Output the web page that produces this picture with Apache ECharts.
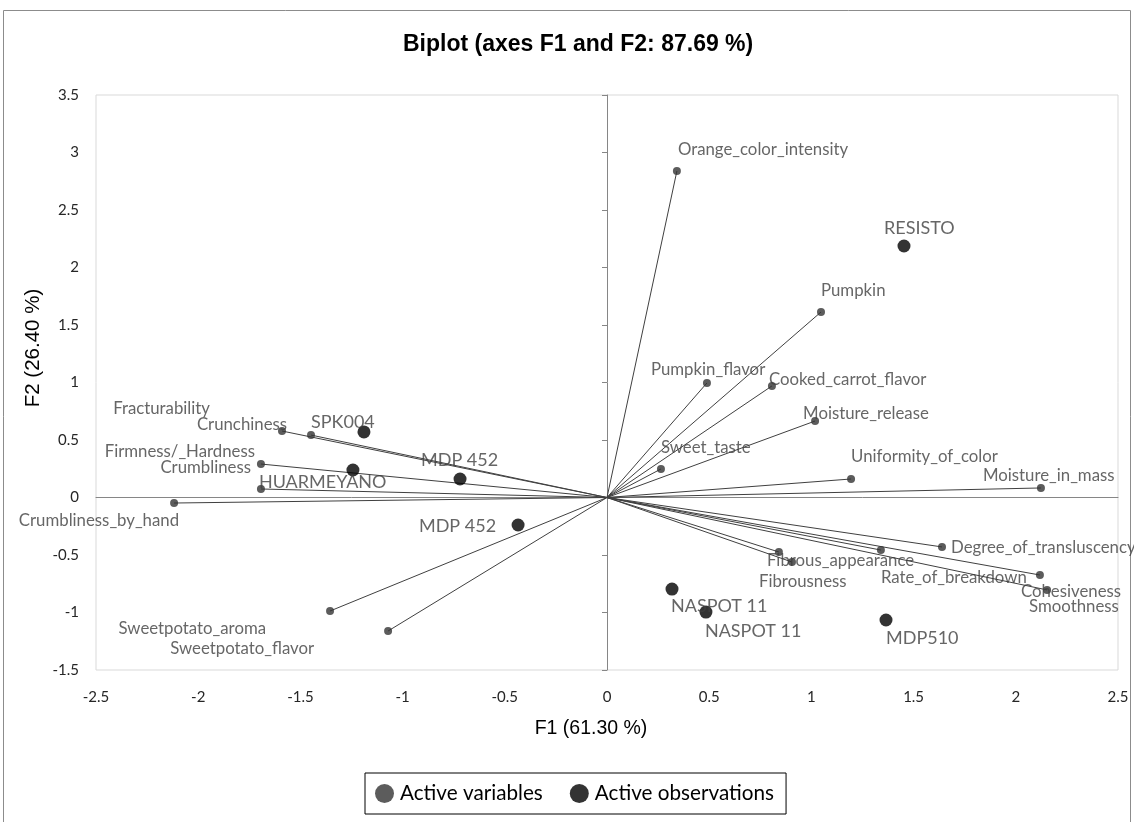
<!DOCTYPE html>
<html><head><meta charset="utf-8">
<script src="https://cdn.jsdelivr.net/npm/echarts@6/dist/echarts.min.js"></script>
<style>html,body{margin:0;padding:0;background:#fff}#c{width:1134px;height:822px}</style>
</head><body><div id="c"></div>
<script>
// ---- data ----
const varNames = ['Orange_color_intensity','Pumpkin','Pumpkin_flavor','Cooked_carrot_flavor','Moisture_release','Sweet_taste','Uniformity_of_color','Moisture_in_mass','Degree_of_transluscency','Rate_of_breakdown','Fibrous_appearance','Fibrousness','Cohesiveness','Smoothness','Sweetpotato_aroma','Sweetpotato_flavor','Crumbliness_by_hand','Crumbliness','Firmness/_Hardness','Fracturability','Crunchiness'];
const varF1 = [0.342, 1.047, 0.489, 0.807, 1.018, 0.264, 1.194, 2.123, 1.639, 1.340, 0.841, 0.905, 2.118, 2.153, -1.355, -1.071, -2.118, -1.693, -1.693, -1.590, -1.448];
const varF2 = [2.839, 1.613, 0.996, 0.970, 0.665, 0.248, 0.161, 0.083, -0.430, -0.457, -0.474, -0.561, -0.674, -0.804, -0.987, -1.161, -0.048, 0.074, 0.291, 0.578, 0.543];
const obsNames = ['SPK004','HUARMEYANO','MDP 452','MDP 452','RESISTO','NASPOT 11','NASPOT 11','MDP510'];
const obsF1 = [-1.189, -1.243, -0.719, -0.435, 1.453, 0.318, 0.484, 1.365];
const obsF2 = [0.570, 0.239, 0.161, -0.239, 2.187, -0.796, -0.996, -1.065];
const xRange = {min: -2.5, max: 2.5, interval: 0.5};
const yRange = {min: -1.5, max: 3.5, interval: 0.5};
const titleText = 'Biplot (axes F1 and F2: 87.69 %)';
const xName = 'F1 (61.30 %)';
const yName = 'F2 (26.40 %)';
const legendNames = ['Active variables','Active observations'];

// ---- label placement (style only): [dx, dy, align] relative to point ----
const varLabelStyle = [
  [1,-21,'left'],[0,-21,'left'],[-56,-13,'left'],[-3,-6,'left'],[-12,-7,'left'],[0,-21,'left'],
  [0,-22,'left'],[-58,-12,'left'],[9,1,'left'],[0,28,'left'],[-12,9,'left'],[-33,20,'left'],
  [-19,17,'left'],[-18,17,'left'],[-64,18,'right'],[-74,18,'right'],[5,18,'right'],
  [-10,-21,'right'],[-6,-12,'right'],[-72,-22,'right'],[-24,-10,'right']
];
const obsLabelStyle = [
  [-53,-10,'left'],[-94,12,'left'],[-39,-19,'left'],[-22,1,'right'],[-20,-18,'left'],
  [-1,17,'left'],[-1,19,'left'],[0,18,'left']
];

const chart = echarts.init(document.getElementById('c'));
const lab = (s) => ({offset:[s[0], s[1]], align:s[2], verticalAlign:'middle'});

const axisLabelStyle = {color:'#262626', fontFamily:'Lato', fontSize:15};
chart.setOption({
  animation:false,
  backgroundColor:'#fff',
  graphic:[
    {type:'rect', shape:{x:3.5,y:10.5,width:1127,height:840}, style:{fill:'none', stroke:'#8c8c8c', lineWidth:1}, silent:true, z:-10},
    {type:'text', x:591, y:729, style:{text:xName, fontFamily:'Liberation Sans', fontSize:19.5, fill:'#000', align:'center', verticalAlign:'middle'}, silent:true},
    {type:'text', x:33, y:348, rotation:Math.PI/2, style:{text:yName, fontFamily:'Liberation Sans', fontSize:20.5, fill:'#000', align:'center', verticalAlign:'middle'}, silent:true}
  ],
  title:{text:titleText, left:398, top:28,
    textStyle:{fontFamily:'Liberation Sans', fontWeight:'bold', fontSize:23, color:'#000'}},
  legend:{data:legendNames, left:365, top:773, icon:'circle',
    itemWidth:19, itemHeight:19, itemGap:27, borderColor:'#000', borderWidth:1, padding:[10,12,10,10],
    textStyle:{fontFamily:'Lato', fontSize:20.7, color:'#000', padding:[0,0,0,1]}},
  grid:{left:96, right:16, top:95, bottom:152, show:true, borderColor:'#d9d9d9', borderWidth:1},
  xAxis:[
    {type:'value', min:xRange.min, max:xRange.max, interval:xRange.interval, position:'bottom',
     axisLine:{show:false, onZero:false}, axisTick:{show:false}, splitLine:{show:false},
     axisLabel:Object.assign({margin:20}, axisLabelStyle)},
    {type:'value', min:xRange.min, max:xRange.max, interval:xRange.interval, position:'bottom',
     axisLine:{show:true, onZero:true, lineStyle:{color:'#868686'}}, axisTick:{show:false},
     axisLabel:{show:false}, splitLine:{show:false}}
  ],
  yAxis:[
    {type:'value', min:yRange.min, max:yRange.max, interval:yRange.interval, position:'left',
     axisLine:{show:false, onZero:false}, axisTick:{show:false}, splitLine:{show:false},
     axisLabel:Object.assign({margin:17}, axisLabelStyle)},
    {type:'value', min:yRange.min, max:yRange.max, interval:yRange.interval, position:'left',
     axisLine:{show:true, onZero:true, lineStyle:{color:'#868686'}},
     axisTick:{show:true, length:5, lineStyle:{color:'#868686'}},
     axisLabel:{show:false}, splitLine:{show:false}}
  ],
  series:[
    {type:'lines', coordinateSystem:'cartesian2d', xAxisIndex:0, yAxisIndex:0, silent:true, z:2,
     lineStyle:{color:'#404040', width:1, opacity:1},
     data: varNames.map((n,i)=>({coords:[[0,0],[varF1[i], varF2[i]]]}))},
    {name:legendNames[0], type:'scatter', xAxisIndex:0, yAxisIndex:0, symbolSize:8, z:3,
     itemStyle:{color:'#333'},
     label:{show:true, position:'inside', formatter:'{b}', color:'#404040', fontFamily:'Lato', fontSize:16.8},
     data: varNames.map((n,i)=>({name:n, value:[varF1[i], varF2[i]], label:lab(varLabelStyle[i])}))},
    {name:legendNames[1], type:'scatter', xAxisIndex:0, yAxisIndex:0, symbolSize:13, z:4,
     itemStyle:{color:'#000'},
     label:{show:true, position:'inside', formatter:'{b}', color:'#404040', fontFamily:'Lato', fontSize:18},
     data: obsNames.map((n,i)=>({name:n, value:[obsF1[i], obsF2[i]], label:lab(obsLabelStyle[i])}))}
  ]
});
</script></body></html>
